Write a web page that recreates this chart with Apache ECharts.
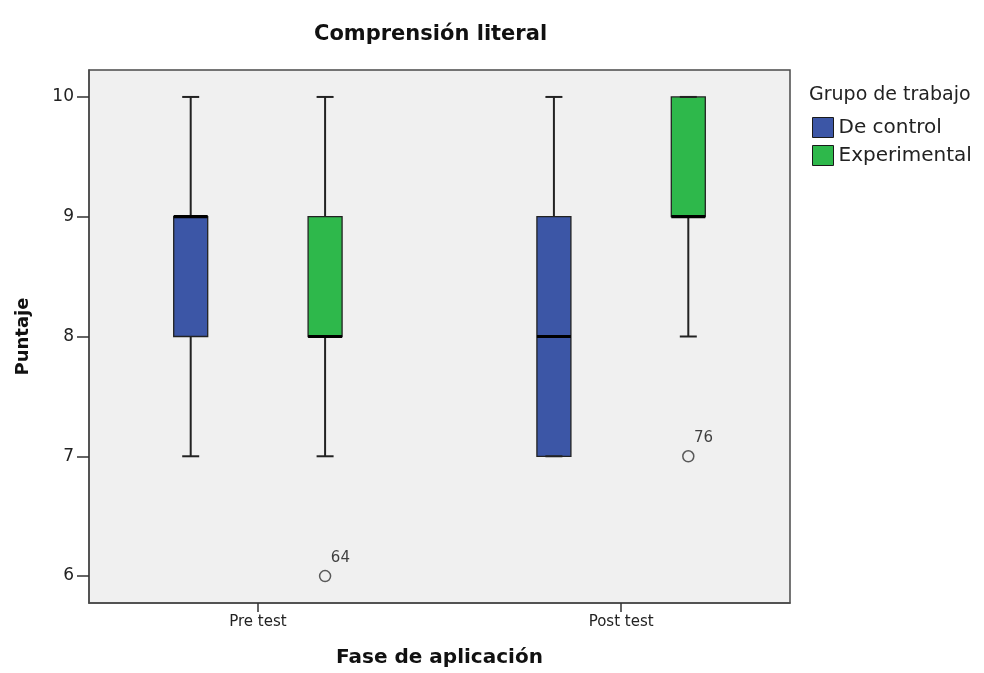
<!DOCTYPE html>
<html>
<head>
<meta charset="utf-8">
<script src="https://cdn.jsdelivr.net/npm/echarts@6/dist/echarts.min.js"></script>
<style>html,body{margin:0;padding:0;background:#fff}#c{width:984px;height:673px}</style>
</head>
<body>
<div id="c"></div>
<script>
// ---- data ----
const phases = ['Pre test', 'Post test'];
const groups = ['De control', 'Experimental'];
// five-number summaries per phase: [min, Q1, median, Q3, max]
const controlStats = [[7, 8, 9, 9, 10], [7, 7, 8, 9, 10]];
const experimentalStats = [[7, 8, 8, 9, 10], [8, 9, 9, 10, 10]];
// outliers
const outlierPhase = ['Pre test', 'Post test'];
const outlierGroup = ['Experimental', 'Experimental'];
const outlierValue = [6, 7];
const outlierCase = ['64', '76'];
const yTicks = [6, 7, 8, 9, 10];

// ---- style/layout ----
const FONT = 'DejaVu Sans';
const groupColors = { 'De control': '#3C56A6', 'Experimental': '#2EB84B' };
const groupOffset = { 'De control': -0.185, 'Experimental': 0.185 };
const BOX_W = 34, CAP_W = 17;

function phaseX(p) { return phases.indexOf(p) + 1; }

function makeBoxData(stats) {
  return stats.map((s, i) => [i + 1].concat(s));
}

function renderer(group) {
  const off = groupOffset[group];
  const color = groupColors[group];
  return function (params, api) {
    const x = api.value(0) + off;
    const mn = api.value(1), q1 = api.value(2), md = api.value(3), q3 = api.value(4), mx = api.value(5);
    const P = v => api.coord([x, v]);
    const cx = P(md)[0];
    const yMn = P(mn)[1], yQ1 = P(q1)[1], yMd = P(md)[1], yQ3 = P(q3)[1], yMx = P(mx)[1];
    const ls = { stroke: '#222', lineWidth: 2 };
    const children = [];
    children.push({ type: 'line', shape: { x1: cx, y1: yQ3, x2: cx, y2: yMx }, style: ls });
    children.push({ type: 'line', shape: { x1: cx, y1: yQ1, x2: cx, y2: yMn }, style: ls });
    children.push({ type: 'rect', shape: { x: cx - BOX_W / 2, y: yQ3, width: BOX_W, height: yQ1 - yQ3 },
      style: { fill: color, stroke: '#222', lineWidth: 1.3 } });
    children.push({ type: 'line', shape: { x1: cx - CAP_W / 2, y1: yMx, x2: cx + CAP_W / 2, y2: yMx }, style: ls });
    children.push({ type: 'line', shape: { x1: cx - CAP_W / 2, y1: yMn, x2: cx + CAP_W / 2, y2: yMn }, style: ls });
    children.push({ type: 'line', shape: { x1: cx - BOX_W / 2, y1: yMd, x2: cx + BOX_W / 2, y2: yMd },
      style: { stroke: '#000', lineWidth: 3.2 } });
    return { type: 'group', children: children };
  };
}

const outlierData = outlierValue.map((v, i) => [
  phaseX(outlierPhase[i]) + groupOffset[outlierGroup[i]], v, outlierCase[i]
]);

const chart = echarts.init(document.getElementById('c'), null, { renderer: 'canvas' });
chart.setOption({
  animation: false,
  textStyle: { fontFamily: FONT },
  title: [
    { text: 'Comprensión literal', left: 309, top: 19,
      textStyle: { fontFamily: FONT, fontSize: 21, fontWeight: 'bold', color: '#111' } },
    { text: 'Grupo de trabajo', left: 804, top: 81,
      textStyle: { fontFamily: FONT, fontSize: 19, fontWeight: 'normal', color: '#222' } }
  ],
  legend: {
    orient: 'vertical', left: 807, top: 112,
    itemWidth: 21, itemHeight: 20, itemGap: 7,
    icon: 'rect',
    textStyle: { fontFamily: FONT, fontSize: 20, color: '#222' },
    data: groups.map(g => ({ name: g, itemStyle: { color: groupColors[g], borderColor: '#1a1a1a', borderWidth: 1 } }))
  },
  grid: {
    left: 89, width: 701, top: 70, height: 534,
    show: true, backgroundColor: '#F0F0F0', borderColor: '#4a4a4a', borderWidth: 1.5
  },
  xAxis: {
    type: 'value', min: 0.535, max: 2.465,
    name: 'Fase de aplicación', nameLocation: 'middle', nameGap: 45,
    nameTextStyle: { fontFamily: FONT, fontSize: 20, fontWeight: 'bold', color: '#111' },
    axisLine: { show: true, lineStyle: { color: '#4a4a4a', width: 1.5 } },
    axisTick: { show: true, customValues: [1, 2], length: 9, lineStyle: { color: '#333', width: 1.5 } },
    axisLabel: { customValues: [1, 2], formatter: v => phases[Math.round(v) - 1], margin: 12,
      fontFamily: FONT, fontSize: 15, color: '#222' },
    splitLine: { show: false }
  },
  yAxis: {
    type: 'value', min: 5.775, max: 10.225,
    name: 'Puntaje', nameLocation: 'middle', nameGap: 57, nameRotate: 90,
    nameTextStyle: { fontFamily: FONT, fontSize: 18, fontWeight: 'bold', color: '#111' },
    axisLine: { show: true, lineStyle: { color: '#4a4a4a', width: 1.5 } },
    axisTick: { show: true, customValues: yTicks, length: 12, lineStyle: { color: '#333', width: 1.5 } },
    axisLabel: { customValues: yTicks, margin: 15, fontFamily: FONT, fontSize: 17, color: '#222' },
    splitLine: { show: false }
  },
  series: [
    { type: 'custom', name: 'De control', itemStyle: { color: groupColors['De control'] },
      renderItem: renderer('De control'), encode: { x: 0, y: [1, 2, 3, 4, 5] },
      data: makeBoxData(controlStats) },
    { type: 'custom', name: 'Experimental', itemStyle: { color: groupColors['Experimental'] },
      renderItem: renderer('Experimental'), encode: { x: 0, y: [1, 2, 3, 4, 5] },
      data: makeBoxData(experimentalStats) },
    { type: 'scatter', name: 'outliers', symbol: 'circle', symbolSize: 11,
      itemStyle: { color: '#F0F0F0', borderColor: '#333', borderWidth: 1.5 },
      label: { show: true, formatter: p => p.data[2], position: [12, -19],
        fontFamily: FONT, fontSize: 15, color: '#111' },
      data: outlierData }
  ]
});
</script>
</body>
</html>
